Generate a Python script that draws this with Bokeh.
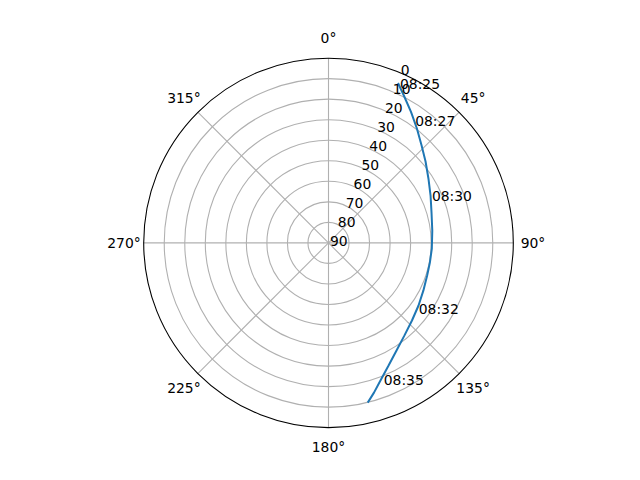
import numpy as np
from bokeh.plotting import figure
from bokeh.models import Range1d
from bokeh.core.properties import value
from bokeh.embed import file_html
from bokeh.resources import INLINE

# ---- data ----
track_az = [23.5, 27.0, 32.2, 37.7, 43.6, 50.0, 57.2, 65.1, 73.6, 83.2, 93.1,
            101.0, 108.3, 116.6, 124.8, 132.9, 140.6, 147.7, 153.9, 159.3, 163.1, 166.2]
track_el = [5.1, 9.3, 14.6, 19.6, 24.3, 28.3, 32.1, 35.2, 37.7, 39.1, 39.6,
            39.7, 39.4, 38.3, 36.6, 34.5, 31.7, 28.0, 23.5, 18.4, 13.8, 9.9]

label_text = ["08:25", "08:27", "08:30", "08:32", "08:35"]
label_az = [24.2, 35.5, 65.4, 126.4, 158.0]
label_el = [5.1, 17.3, 34.6, 35.4, 18.2]

theta_ticks = [0, 45, 90, 135, 180, 225, 270, 315]
theta_labels = ["0°", "45°", "90°", "135°", "180°", "225°", "270°", "315°"]
r_ticks = [0, 10, 20, 30, 40, 50, 60, 70, 80, 90]
r_labels = ["0", "10", "20", "30", "40", "50", "60", "70", "80", "90"]
r_label_angle = 22.5
R_MAX = 90.0

# ---- layout ----
W, H = 624, 464
R_PX = 184.8
ppu = R_PX / R_MAX
cx, cy = 328.0, 242.4  # center in figure pixels (from top-left)

FONT = value("DejaVu Sans")
FS = "13.9px"


def to_xy(az, el):
    az = np.radians(np.asarray(az, dtype=float))
    r = R_MAX - np.asarray(el, dtype=float)
    return r * np.sin(az), r * np.cos(az)


p = figure(width=W, height=H, output_backend="svg", toolbar_location=None,
           x_axis_location=None, y_axis_location=None,
           x_range=Range1d(-cx / ppu, (W - cx) / ppu),
           y_range=Range1d(-(H - cy) / ppu, cy / ppu),
           min_border=0, outline_line_color=None)
p.xgrid.visible = False
p.ygrid.visible = False
p.background_fill_color = "white"
p.border_fill_color = "white"

GRID = "#b0b0b0"

# angular spokes
th = np.radians(theta_ticks)
p.segment(x0=0, y0=0, x1=R_MAX * np.sin(th), y1=R_MAX * np.cos(th),
          line_color=GRID, line_width=1.1)

# radial circles (inner ticks)
inner = [R_MAX - t for t in r_ticks if 0 < t < 90]
p.circle(x=[0] * len(inner), y=[0] * len(inner), radius=inner,
         fill_color=None, line_color=GRID, line_width=1.1)

# outer spine
p.circle(x=[0], y=[0], radius=[R_MAX], fill_color=None, line_color="black", line_width=1.1)

# track
tx, ty = to_xy(track_az, track_el)
p.line(tx, ty, line_color="#1f77b4", line_width=2.0)

# radial labels
rx, ry = to_xy([r_label_angle] * len(r_ticks), r_ticks)
p.text(x=rx, y=ry, text=r_labels, text_font=FONT, text_font_size=FS,
       text_color="black", text_align="left", text_baseline="alphabetic",
       x_offset=1.5, y_offset=-2.4)

# theta labels
RL = 204.5 / ppu
p.text(x=RL * np.sin(th), y=RL * np.cos(th), text=theta_labels, text_font=FONT,
       text_font_size=FS, text_color="black", text_align="center", text_baseline="middle")

# time labels
lx, ly = to_xy(label_az, label_el)
p.text(x=lx, y=ly, text=label_text, text_font=FONT, text_font_size=FS,
       text_color="black", text_align="left", text_baseline="alphabetic")

open("out.html", "w").write(file_html(p, INLINE))
